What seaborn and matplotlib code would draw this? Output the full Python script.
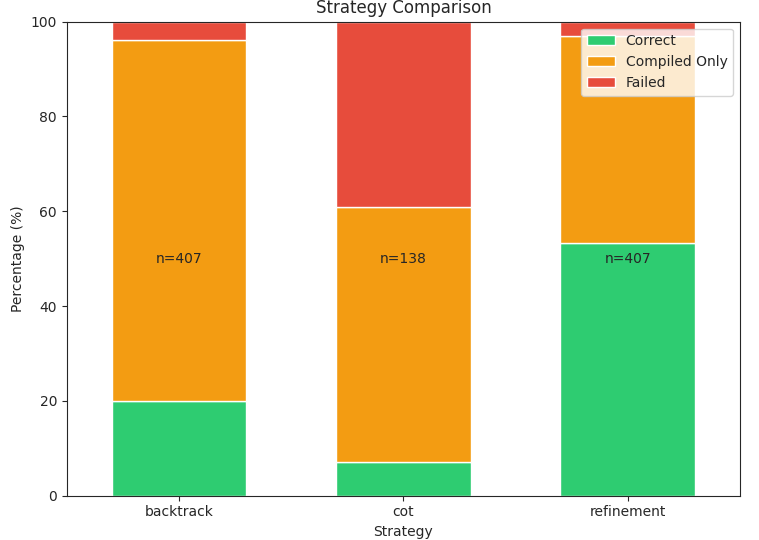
import seaborn as sns
import matplotlib.pyplot as plt
import numpy as np

strategies = ['backtrack', 'cot', 'refinement']
correct = [20.0, 7.2, 53.4]
compiled_only = [76.2, 53.6, 43.6]
failed = [3.8, 39.2, 3.0]
counts = [407, 138, 407]

sns.set_style('ticks')
plt.rcParams['font.family'] = ['DejaVu Sans']
fig, ax = plt.subplots(figsize=(7.59, 5.4), dpi=100)

x = np.arange(len(strategies))
bottom = np.zeros(len(strategies))
for vals, label, color in [(correct, 'Correct', '#2ecc71'),
                           (compiled_only, 'Compiled Only', '#f39c12'),
                           (failed, 'Failed', '#e74c3c')]:
    ax.bar(x, vals, width=0.6, bottom=bottom, color=color, label=label)
    bottom += np.array(vals)

for i, n in enumerate(counts):
    ax.text(x[i], 50, 'n={}'.format(n), ha='center', va='center', fontsize=10)

ax.set_xticks(x)
ax.set_xticklabels(strategies)
ax.set_ylim(0, 100)
ax.set_xlim(-0.5, 2.5)
ax.set_xlabel('Strategy')
ax.set_ylabel('Percentage (%)')
ax.set_title('Strategy Comparison')
ax.legend(loc='upper right')
fig.subplots_adjust(left=0.088, right=0.975, top=0.96, bottom=0.082)
plt.savefig('out.png')
